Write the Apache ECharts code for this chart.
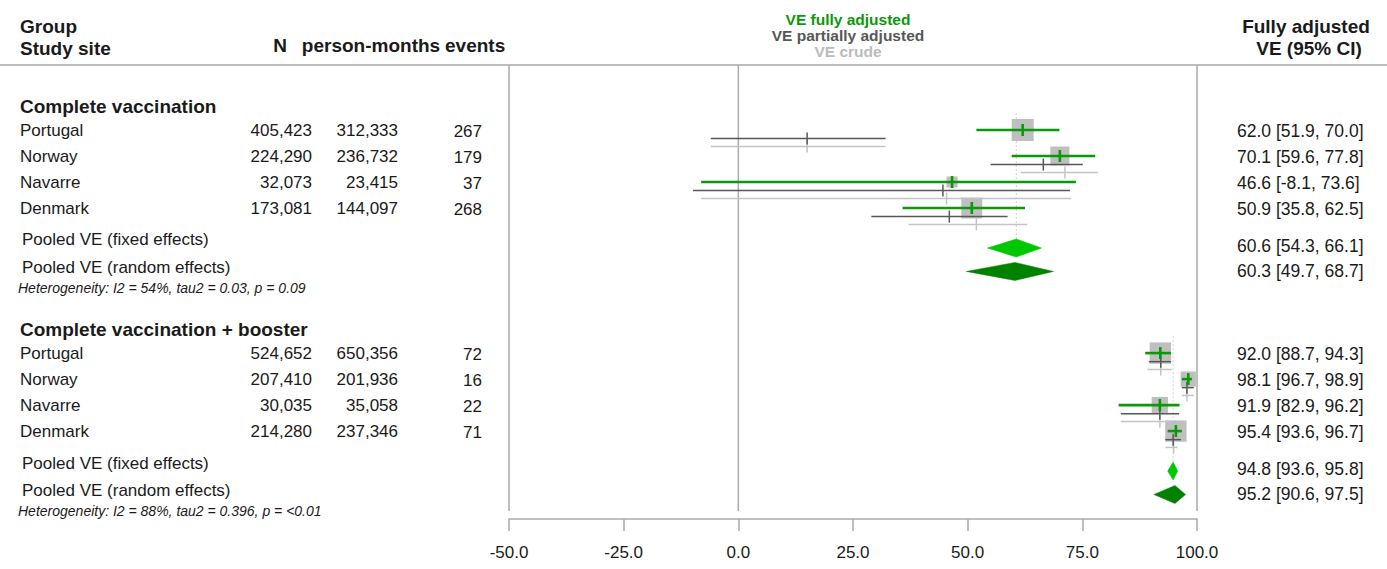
<!DOCTYPE html>
<html>
<head>
<meta charset="utf-8">
<script src="https://cdn.jsdelivr.net/npm/echarts@6/dist/echarts.min.js"></script>
<style>
  html, body { margin: 0; padding: 0; background: #ffffff; }
  #chart { width: 1387px; height: 569px; }
</style>
</head>
<body>
<div id="chart"></div>
<script>
// ---- data ----
const groups = ['Complete vaccination', 'Complete vaccination + booster'];
const sites = ['Portugal', 'Norway', 'Navarre', 'Denmark'];
const participants = [[405423, 224290, 32073, 173081], [524652, 207410, 30035, 214280]];
const personMonths = [[312333, 236732, 23415, 144097], [650356, 201936, 35058, 237346]];
const events = [[267, 179, 37, 268], [72, 16, 22, 71]];

// VE fully adjusted (estimate, lower, upper)
const veFull = [[62.0, 70.1, 46.6, 50.9], [92.0, 98.1, 91.9, 95.4]];
const veFullLow = [[51.9, 59.6, -8.1, 35.8], [88.7, 96.7, 82.9, 93.6]];
const veFullHigh = [[70.0, 77.8, 73.6, 62.5], [94.3, 98.9, 96.2, 96.7]];
// VE partially adjusted
const vePartial = [[15.0, 66.5, 44.6, 46.0], [92.1, 97.8, 91.9, 94.8]];
const vePartialLow = [[-6.0, 55.0, -9.9, 29.0], [89.5, 96.7, 83.4, 93.1]];
const vePartialHigh = [[32.1, 75.1, 72.3, 58.7], [94.3, 99.3, 96.1, 96.5]];
// VE crude
const veCrude = [[15.0, 71.2, 45.4, 51.9], [92.1, 97.8, 91.9, 94.9]];
const veCrudeLow = [[-6.0, 61.6, -8.1, 37.1], [89.2, 96.7, 83.4, 93.1]];
const veCrudeHigh = [[32.1, 78.4, 72.5, 63.0], [94.5, 99.3, 94.3, 95.8]];
// study weights (%) for the fully adjusted model
const studyWeight = [[34.4, 25.7, 8.6, 31.3], [32.4, 16.5, 18.8, 32.4]];

// pooled estimates: [estimate, lower, upper]
const pooledFixed = [[60.6, 54.3, 66.1], [94.8, 93.6, 95.8]];
const pooledRandom = [[60.3, 49.7, 68.7], [95.2, 90.6, 97.5]];
const heterogeneity = [
  'Heterogeneity: I2 = 54%, tau2 = 0.03, p = 0.09',
  'Heterogeneity: I2 = 88%, tau2 = 0.396, p = <0.01'
];

const xTicks = [-50, -25, 0, 25, 50, 75, 100];
const legendLabels = ['VE fully adjusted', 'VE partially adjusted', 'VE crude'];

// ---- layout ----
const FONT = '"Liberation Sans", Arial, Helvetica, sans-serif';
const TEXT = '#1a1a1a';
const GREEN = '#0b990b';
const DARK = '#575757';
const LIGHT = '#c4c4c4';
const FRAME = '#aaaaaa';
const ROW_PX = 26;
const GRID = { left: 509, right: 190, top: 65, bottom: 58 };
const PLOT_ROWS = (569 - GRID.top - GRID.bottom) / ROW_PX;
const GROUP_START = [2.5, 11.08];           // row of the first study in each group
const OFF = {
  header: -0.92, refTop: -0.65,
  fixedLabel: 4.23, fixedDiamond: 4.54, fixedValue: 4.45,
  randomLabel: 5.27, randomDiamond: 5.44, randomValue: 5.42,
  het: 6.08
};
const SUB = { full: 0, partial: 0.33, crude: 0.63 };  // sub-row offsets of the three estimates
const COL = { label: 20, pooled: 22, het: 18, n: 312, pm: 398, ev: 482, value: 1237 };
const BOX_SCALE = 3.75;   // px per sqrt(weight)
const DIAMOND_HALF = 9;

const fmtInt = v => v.toLocaleString('en-US');
const fmtCI = (e, l, h) => e.toFixed(1) + ' [' + l.toFixed(1) + ', ' + h.toFixed(1) + ']';

// ---- build series data ----
const fullData = [], partialData = [], crudeData = [], boxData = [];
const fixedData = [], randomData = [], refData = [];
const texts = [];
function addText(row, x, text, opt) { texts.push(Object.assign({ row: row, x: x, text: text }, opt || {})); }

groups.forEach((g, gi) => {
  const base = GROUP_START[gi];
  addText(base + OFF.header, COL.label, g, { size: 19, weight: 'bold' });
  sites.forEach((s, i) => {
    const r = base + i;
    fullData.push([veFullLow[gi][i], veFullHigh[gi][i], veFull[gi][i], r + SUB.full]);
    partialData.push([vePartialLow[gi][i], vePartialHigh[gi][i], vePartial[gi][i], r + SUB.partial]);
    crudeData.push([veCrudeLow[gi][i], veCrudeHigh[gi][i], veCrude[gi][i], r + SUB.crude]);
    boxData.push([veFull[gi][i], r, studyWeight[gi][i]]);
    addText(r, COL.label, s);
    addText(r, COL.n, fmtInt(participants[gi][i]), { align: 'right' });
    addText(r, COL.pm, fmtInt(personMonths[gi][i]), { align: 'right' });
    addText(r + 0.04, COL.ev, String(events[gi][i]), { align: 'right' });
    addText(r + 0.04, COL.value, fmtCI(veFull[gi][i], veFullLow[gi][i], veFullHigh[gi][i]), { size: 17.5 });
  });
  const pf = pooledFixed[gi], pr = pooledRandom[gi];
  fixedData.push([pf[1], pf[2], pf[0], base + OFF.fixedDiamond]);
  randomData.push([pr[1], pr[2], pr[0], base + OFF.randomDiamond]);
  refData.push([pf[0], base + OFF.refTop, base + OFF.fixedDiamond]);
  addText(base + OFF.fixedLabel, COL.pooled, 'Pooled VE (fixed effects)');
  addText(base + OFF.randomLabel, COL.pooled, 'Pooled VE (random effects)');
  addText(base + OFF.fixedValue, COL.value, fmtCI(pf[0], pf[1], pf[2]), { size: 17.5 });
  addText(base + OFF.randomValue, COL.value, fmtCI(pr[0], pr[1], pr[2]), { size: 17.5 });
  addText(base + OFF.het, COL.het, heterogeneity[gi], { size: 14, style: 'italic' });
});

// ---- renderers ----
function ciRenderer(color, width, tickHalf) {
  return function (params, api) {
    const row = api.value(3);
    const lo = api.coord([api.value(0), row]);
    const hi = api.coord([api.value(1), row]);
    const est = api.coord([api.value(2), row]);
    return {
      type: 'group',
      children: [
        { type: 'line', shape: { x1: lo[0], y1: lo[1], x2: hi[0], y2: hi[1] },
          style: { stroke: color, lineWidth: width } },
        { type: 'line', shape: { x1: est[0], y1: est[1] - tickHalf, x2: est[0], y2: est[1] + tickHalf },
          style: { stroke: color, lineWidth: width } }
      ]
    };
  };
}

function diamondRenderer(color) {
  return function (params, api) {
    const row = api.value(3);
    const lo = api.coord([api.value(0), row]);
    const hi = api.coord([api.value(1), row]);
    const est = api.coord([api.value(2), row]);
    return {
      type: 'polygon',
      shape: { points: [[lo[0], lo[1]], [est[0], est[1] - DIAMOND_HALF], [hi[0], hi[1]], [est[0], est[1] + DIAMOND_HALF]] },
      style: { fill: color, stroke: color, lineWidth: 0.5 }
    };
  };
}

function headerText(x, y, text, align, color, size) {
  return { type: 'text', x: x, y: y, z: 10,
    style: { text: text, fill: color || TEXT, fontSize: size || 19, fontWeight: 'bold', fontFamily: FONT,
             align: align, verticalAlign: 'middle' } };
}

const option = {
  animation: false,
  backgroundColor: '#ffffff',
  grid: { left: GRID.left, right: GRID.right, top: GRID.top, bottom: GRID.bottom, containLabel: false },
  xAxis: {
    type: 'value',
    min: xTicks[0], max: xTicks[xTicks.length - 1], interval: xTicks[1] - xTicks[0],
    position: 'bottom', offset: 8,
    axisLine: { show: true, onZero: false, lineStyle: { color: FRAME, width: 1.5 } },
    axisTick: { show: true, length: 12, lineStyle: { color: FRAME, width: 1.5 } },
    splitLine: { show: false },
    axisLabel: {
      formatter: v => v.toFixed(1), fontSize: 17, color: TEXT, fontFamily: FONT, margin: 25
    }
  },
  yAxis: { type: 'value', min: 0, max: PLOT_ROWS, inverse: true, show: false },
  graphic: [
    { type: 'line', shape: { x1: 0, y1: GRID.top, x2: 1387, y2: GRID.top },
      style: { stroke: '#bdbdbd', lineWidth: 2 }, z: 1 },
    headerText(20, 26, 'Group', 'left'),
    headerText(20, 48, 'Study site', 'left'),
    headerText(280, 45, 'N', 'center'),
    headerText(371, 45, 'person-months', 'center'),
    headerText(445, 45, 'events', 'left'),
    headerText(1306, 26, 'Fully adjusted', 'center'),
    headerText(1309, 48, 'VE (95% CI)', 'center'),
    headerText(848, 19, legendLabels[0], 'center', GREEN, 15.5),
    headerText(848, 35, legendLabels[1], 'center', DARK, 15.5),
    headerText(848, 51, legendLabels[2], 'center', '#bbbbbb', 15.5)
  ],
  series: [
    {
      // plot frame: left border, zero line, right border
      type: 'custom', name: 'frame', z: 1, silent: true,
      data: [[xTicks[0]], [0], [xTicks[xTicks.length - 1]]],
      encode: { x: 0 },
      renderItem: function (params, api) {
        const cs = params.coordSys;
        const x = api.coord([api.value(0), 0])[0];
        return { type: 'line', shape: { x1: x, y1: cs.y, x2: x, y2: cs.y + cs.height },
                 style: { stroke: FRAME, lineWidth: 1.5 } };
      }
    },
    {
      // dotted reference line at the pooled fixed-effect estimate
      type: 'custom', name: 'reference', z: 2, silent: true,
      data: refData, encode: { x: 0, y: [1, 2] },
      renderItem: function (params, api) {
        const a = api.coord([api.value(0), api.value(1)]);
        const b = api.coord([api.value(0), api.value(2)]);
        return { type: 'line', shape: { x1: a[0], y1: a[1], x2: b[0], y2: b[1] },
                 style: { stroke: '#cfcfcf', lineWidth: 1, lineDash: [2, 2] } };
      }
    },
    {
      type: 'custom', name: 'weight', z: 3, silent: true,
      data: boxData, encode: { x: 0, y: 1 },
      renderItem: function (params, api) {
        const c = api.coord([api.value(0), api.value(1)]);
        const side = BOX_SCALE * Math.sqrt(api.value(2));
        return { type: 'rect', shape: { x: c[0] - side / 2, y: c[1] - side / 2, width: side, height: side },
                 style: { fill: '#bfbfbf' } };
      }
    },
    { type: 'custom', name: legendLabels[2], z: 4, silent: true, data: crudeData,
      encode: { x: [0, 1, 2], y: 3 }, renderItem: ciRenderer(LIGHT, 1.5, 6) },
    { type: 'custom', name: legendLabels[1], z: 5, silent: true, data: partialData,
      encode: { x: [0, 1, 2], y: 3 }, renderItem: ciRenderer(DARK, 1.5, 6) },
    { type: 'custom', name: legendLabels[0], z: 6, silent: true, data: fullData,
      encode: { x: [0, 1, 2], y: 3 }, renderItem: ciRenderer(GREEN, 2.6, 6) },
    { type: 'custom', name: 'Pooled VE (fixed effects)', z: 7, silent: true, data: fixedData,
      encode: { x: [0, 1, 2], y: 3 }, renderItem: diamondRenderer('#00c800') },
    { type: 'custom', name: 'Pooled VE (random effects)', z: 7, silent: true, data: randomData,
      encode: { x: [0, 1, 2], y: 3 }, renderItem: diamondRenderer('#008200') },
    {
      // table columns, placed on the rows of the value axis
      type: 'custom', name: 'table', z: 8, silent: true, clip: false,
      data: texts.map(t => [0, t.row]), encode: { y: 1 },
      renderItem: function (params, api) {
        const t = texts[params.dataIndex];
        const y = api.coord([0, api.value(1)])[1];
        return {
          type: 'text', x: t.x, y: y,
          style: {
            text: t.text, fill: t.color || TEXT, fontFamily: FONT,
            fontSize: t.size || 17, fontWeight: t.weight || 'normal', fontStyle: t.style || 'normal',
            align: t.align || 'left', verticalAlign: 'middle',
            textAlign: t.align || 'left', textVerticalAlign: 'middle'
          }
        };
      }
    }
  ]
};

const chart = echarts.init(document.getElementById('chart'), null, { renderer: 'svg' });
chart.setOption(option);
</script>
</body>
</html>
